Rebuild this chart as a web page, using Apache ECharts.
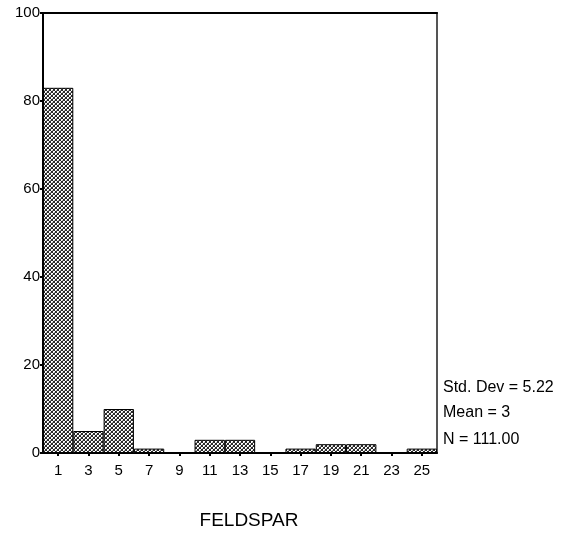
<!DOCTYPE html>
<html>
<head>
<meta charset="utf-8">
<script src="https://cdn.jsdelivr.net/npm/echarts@6/dist/echarts.min.js"></script>
<style>html,body{margin:0;padding:0;background:#fff;}#c{width:563px;height:533px;}</style>
</head>
<body>
<div id="c"></div>
<script>
var categories = ['1','3','5','7','9','11','13','15','17','19','21','23','25'];
var counts = [83, 5, 10, 1, 0, 3, 3, 0, 1, 2, 2, 0, 1];
var yTicks = [0, 20, 40, 60, 80, 100];
var statsLines = ['Std. Dev = 5.22', 'Mean = 3', 'N = 111.00'];
var xTitle = 'FELDSPAR';

function makePattern() {
  var c = document.createElement('canvas');
  c.width = 4; c.height = 4;
  var g = c.getContext('2d');
  g.fillStyle = '#ffffff'; g.fillRect(0, 0, 4, 4);
  g.fillStyle = '#2a2a2a';
  var px = [[0,0],[1,1],[2,2],[3,3],[3,0],[2,1],[1,2],[0,3]];
  px.forEach(function(p){ g.fillRect(p[0], p[1], 1, 1); });
  g.fillStyle = '#a8a8a8';
  g.fillRect(2,0,1,1); g.fillRect(0,2,1,1);
  return c;
}
var font = 'Liberation Sans, Arial, sans-serif';
var chart = echarts.init(document.getElementById('c'), null, {renderer: 'canvas'});
var option = {
  animation: false,
  backgroundColor: '#ffffff',
  grid: {left: 43, right: 126, top: 13, bottom: 80},
  xAxis: [
    {type: 'category', data: categories, position: 'bottom',
     axisLine: {show: true, lineStyle: {color: '#000', width: 2}},
     axisTick: {show: false},
     axisLabel: {color: '#000', fontSize: 15, fontFamily: font, margin: 10}},
    {type: 'category', data: categories, position: 'bottom', offset: 2,
     axisLine: {show: false},
     axisTick: {show: true, alignWithLabel: true, length: 3, lineStyle: {color: '#000', width: 2}},
     axisLabel: {show: false}},
    {type: 'category', data: categories, position: 'top',
     axisLine: {show: true, lineStyle: {color: '#000', width: 2}},
     axisTick: {show: false}, axisLabel: {show: false}}
  ],
  yAxis: [
    {type: 'value', min: 0, max: 100, interval: 20, position: 'left',
     splitLine: {show: false},
     axisLine: {show: true, lineStyle: {color: '#000', width: 2}},
     axisTick: {show: true, length: 3, lineStyle: {color: '#000', width: 2}},
     axisLabel: {color: '#000', fontSize: 15, fontFamily: font, margin: 3}},
    {type: 'value', min: 0, max: 100, interval: 20, position: 'right',
     splitLine: {show: false},
     axisLine: {show: true, lineStyle: {color: '#555', width: 2}},
     axisTick: {show: false}, axisLabel: {show: false}}
  ],
  series: [{
    type: 'bar', data: counts, xAxisIndex: 0, yAxisIndex: 0,
    barCategoryGap: '0%', barGap: '0%',
    itemStyle: {color: {image: makePattern(), repeat: 'repeat'}, borderColor: '#000', borderWidth: 1}
  }],
  graphic: [
    {type: 'text', left: 443, top: 380, style: {text: statsLines[0], font: '16px ' + font, fill: '#000'}},
    {type: 'text', left: 443, top: 405, style: {text: statsLines[1], font: '16px ' + font, fill: '#000'}},
    {type: 'text', left: 443, top: 432, style: {text: statsLines[2], font: '16px ' + font, fill: '#000'}},
    {type: 'text', x: 249, y: 521, style: {text: xTitle, font: '19px ' + font, fill: '#000', textAlign: 'center', textVerticalAlign: 'middle'}}
  ]
};
chart.setOption(option);
</script>
</body>
</html>
